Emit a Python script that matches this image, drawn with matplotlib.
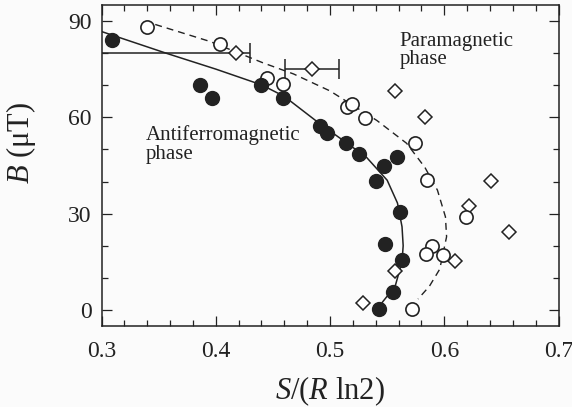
import matplotlib
matplotlib.use("Agg")
import matplotlib.pyplot as plt
from matplotlib.ticker import MultipleLocator

# ===================== 配置 =====================
plt.rcParams['font.family'] = ['Liberation Serif', 'DejaVu Serif']
plt.rcParams['mathtext.fontset'] = 'custom'
plt.rcParams['mathtext.it'] = 'Liberation Serif:italic'
plt.rcParams['mathtext.rm'] = 'Liberation Serif'
INK = '#222222'

# ===================== 数据 =====================
# filled circles
af_s = [0.309, 0.386, 0.397, 0.440, 0.459, 0.491, 0.497, 0.514, 0.525, 0.559,
        0.547, 0.540, 0.561, 0.548, 0.563, 0.555, 0.543]
af_b = [84.0, 70.1, 66.0, 70.1, 66.0, 57.4, 55.2, 51.9, 48.5, 47.5,
        44.8, 40.1, 30.6, 20.4, 15.4, 5.6, 0.3]

# open circles
oc_s = [0.340, 0.404, 0.445, 0.459, 0.515, 0.519, 0.531, 0.574, 0.585, 0.619,
        0.589, 0.584, 0.599, 0.572]
oc_b = [88.0, 82.7, 72.2, 70.4, 63.3, 64.2, 59.9, 51.9, 40.4, 29.0,
        19.8, 17.3, 17.0, 0.3]

# diamonds
dm_s = [0.557, 0.583, 0.641, 0.622, 0.657, 0.609, 0.557, 0.529]
dm_b = [68.2, 60.2, 40.1, 32.4, 24.4, 15.1, 12.0, 2.2]

# diamonds with horizontal error bars
eb_s = [0.418, 0.484]
eb_b = [79.9, 75.0]
eb_lo = [0.15, 0.0235]
eb_hi = [0.012, 0.0235]

# phase boundaries
solid_s = [0.300, 0.357, 0.400, 0.440, 0.460, 0.491, 0.515, 0.532, 0.550, 0.559,
           0.563, 0.564, 0.563, 0.557, 0.546, 0.542]
solid_b = [86.7, 79.9, 75.0, 70.1, 66.5, 58.0, 51.9, 47.5, 40.4, 33.3,
           25.9, 20.0, 15.0, 7.4, 2.5, 0.3]
dash_s = [0.347, 0.395, 0.441, 0.468, 0.500, 0.541, 0.567, 0.583, 0.594, 0.601,
          0.602, 0.596, 0.587, 0.577]
dash_b = [88.9, 83.6, 77.0, 73.5, 68.2, 59.0, 51.9, 44.4, 37.3, 29.0,
          22.8, 12.7, 7.4, 3.4]

x_ticks = [0.3, 0.4, 0.5, 0.6, 0.7]
y_ticks = [0, 30, 60, 90]

# ===================== 绘图 =====================
fig = plt.figure(figsize=(5.72, 4.07), dpi=100, facecolor='#fbfbfb')
ax = fig.add_axes([0.1775, 0.199, 0.799, 0.789], facecolor='#fbfbfb')

ax.plot(solid_s, solid_b, '-', color=INK, lw=1.1)
ax.plot(dash_s, dash_b, '--', color=INK, lw=1.0, dashes=(5, 3.6))

ax.errorbar(eb_s, eb_b, xerr=[eb_lo, eb_hi], fmt='D', ms=7.5, mfc='white',
            mec=INK, mew=1.1, ecolor=INK, elinewidth=1.1, capsize=7, capthick=1.1)
ax.plot(dm_s, dm_b, 'D', ms=7.5, mfc='white', mec=INK, mew=1.1, ls='none')
ax.plot(oc_s, oc_b, 'o', ms=9.5, mfc='white', mec=INK, mew=1.2, ls='none')
ax.plot(af_s, af_b, 'o', ms=10, mfc=INK, mec=INK, ls='none')

ax.text(0.339, 57.5, "Antiferromagnetic\nphase", fontsize=15, color=INK,
        va='top', ha='left', linespacing=0.95)
ax.text(0.561, 86.5, "Paramagnetic\nphase", fontsize=15, color=INK,
        va='top', ha='left', linespacing=0.95)

# 样式
ax.set_xlim(0.3, 0.7)
ax.set_ylim(-5, 95)
ax.set_xticks(x_ticks)
ax.set_xticklabels([str(v) for v in x_ticks])
ax.set_yticks(y_ticks)
ax.xaxis.set_minor_locator(MultipleLocator(0.02))
ax.yaxis.set_minor_locator(MultipleLocator(10))
ax.tick_params(which='both', direction='in', top=True, right=True,
               color=INK, width=0.9, labelcolor=INK, labelsize=17)
ax.tick_params(which='major', length=7.5)
ax.tick_params(which='minor', length=4)
ax.tick_params(axis='x', pad=11)
ax.tick_params(axis='y', pad=7)
for sp in ax.spines.values():
    sp.set_linewidth(1.1)
    sp.set_color(INK)

ax.set_xlabel(r"$S$/($R$ ln2)", fontsize=22, color=INK)
ax.set_ylabel(r"$B$ (μT)", fontsize=22, color=INK)
ax.xaxis.set_label_coords(0.5, -0.15)
ax.yaxis.set_label_coords(-0.14, 0.57)

fig.savefig("out.png", dpi=100, facecolor=fig.get_facecolor())
